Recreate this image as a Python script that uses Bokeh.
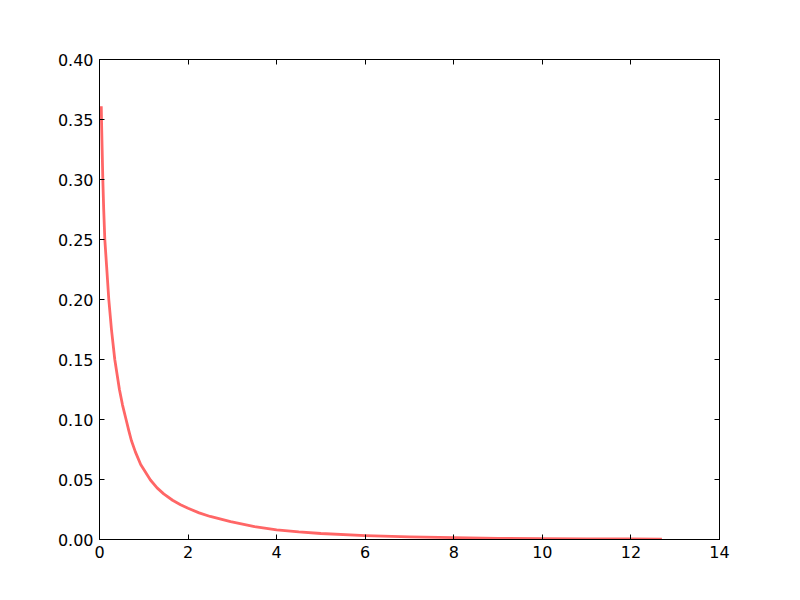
from bokeh.plotting import figure
from bokeh.models import Range1d, FixedTicker, LinearAxis, NumeralTickFormatter
from bokeh.embed import file_html
from bokeh.resources import INLINE

# values
x_vals = [0.04, 0.045, 0.06, 0.075, 0.095, 0.12, 0.16, 0.21, 0.27, 0.345, 0.45, 0.52,
          0.60, 0.66, 0.72, 0.81, 0.93, 1.15, 1.30, 1.45, 1.65, 1.83, 2.00, 2.25, 2.50,
          2.96, 3.50, 4.00, 4.50, 5.00, 6.00, 7.00, 8.00, 9.00, 10.0, 11.0, 12.0, 12.7]
y_vals = [0.361, 0.350, 0.325, 0.300, 0.275, 0.250, 0.228, 0.200, 0.175, 0.150, 0.125,
          0.112, 0.100, 0.091, 0.0825, 0.0730, 0.0625, 0.0496, 0.0430, 0.0380, 0.0327,
          0.0290, 0.0260, 0.0222, 0.0192, 0.0149, 0.0108, 0.0081, 0.0063, 0.0050, 0.0033,
          0.0022, 0.0015, 0.0010, 0.0007, 0.0005, 0.0004, 0.0003]
x_ticks = [0, 2, 4, 6, 8, 10, 12, 14]
y_ticks = [0.0, 0.05, 0.10, 0.15, 0.20, 0.25, 0.30, 0.35, 0.40]

p = figure(width=792, height=592, output_backend="svg", toolbar_location=None,
           x_range=Range1d(0, 14), y_range=Range1d(0, 0.40),
           min_border_left=99, min_border_top=59, min_border_right=73, min_border_bottom=53)
p.frame_width = 620
p.frame_height = 480
p.grid.visible = False
p.outline_line_color = "black"
p.outline_line_width = 1
p.outline_line_alpha = 1
p.background_fill_color = "white"
p.border_fill_color = "white"

p.line(x_vals, y_vals, line_color="#ff6666", line_width=2.8, line_join="round")

def style(ax, ticks, labels=True):
    ax.ticker = FixedTicker(ticks=ticks)
    ax.major_tick_in = 5
    ax.major_tick_out = 0
    ax.minor_tick_in = 0
    ax.minor_tick_out = 0
    ax.axis_line_color = "black"
    ax.major_tick_line_color = "black"
    ax.major_label_text_font = "DejaVu Sans"
    ax.major_label_text_font_size = "16px"
    ax.major_label_text_color = "black"
    ax.major_label_standoff = 6
    if not labels:
        ax.major_label_text_color = None
        ax.major_label_text_font_size = "1px"
        ax.major_label_standoff = 0

style(p.xaxis[0], x_ticks)
style(p.yaxis[0], y_ticks)
p.yaxis[0].formatter = NumeralTickFormatter(format="0.00")

top = LinearAxis()
style(top, x_ticks, labels=False)
p.add_layout(top, "above")
right = LinearAxis()
style(right, y_ticks, labels=False)
p.add_layout(right, "right")

open("out.html", "w").write(file_html(p, INLINE))
